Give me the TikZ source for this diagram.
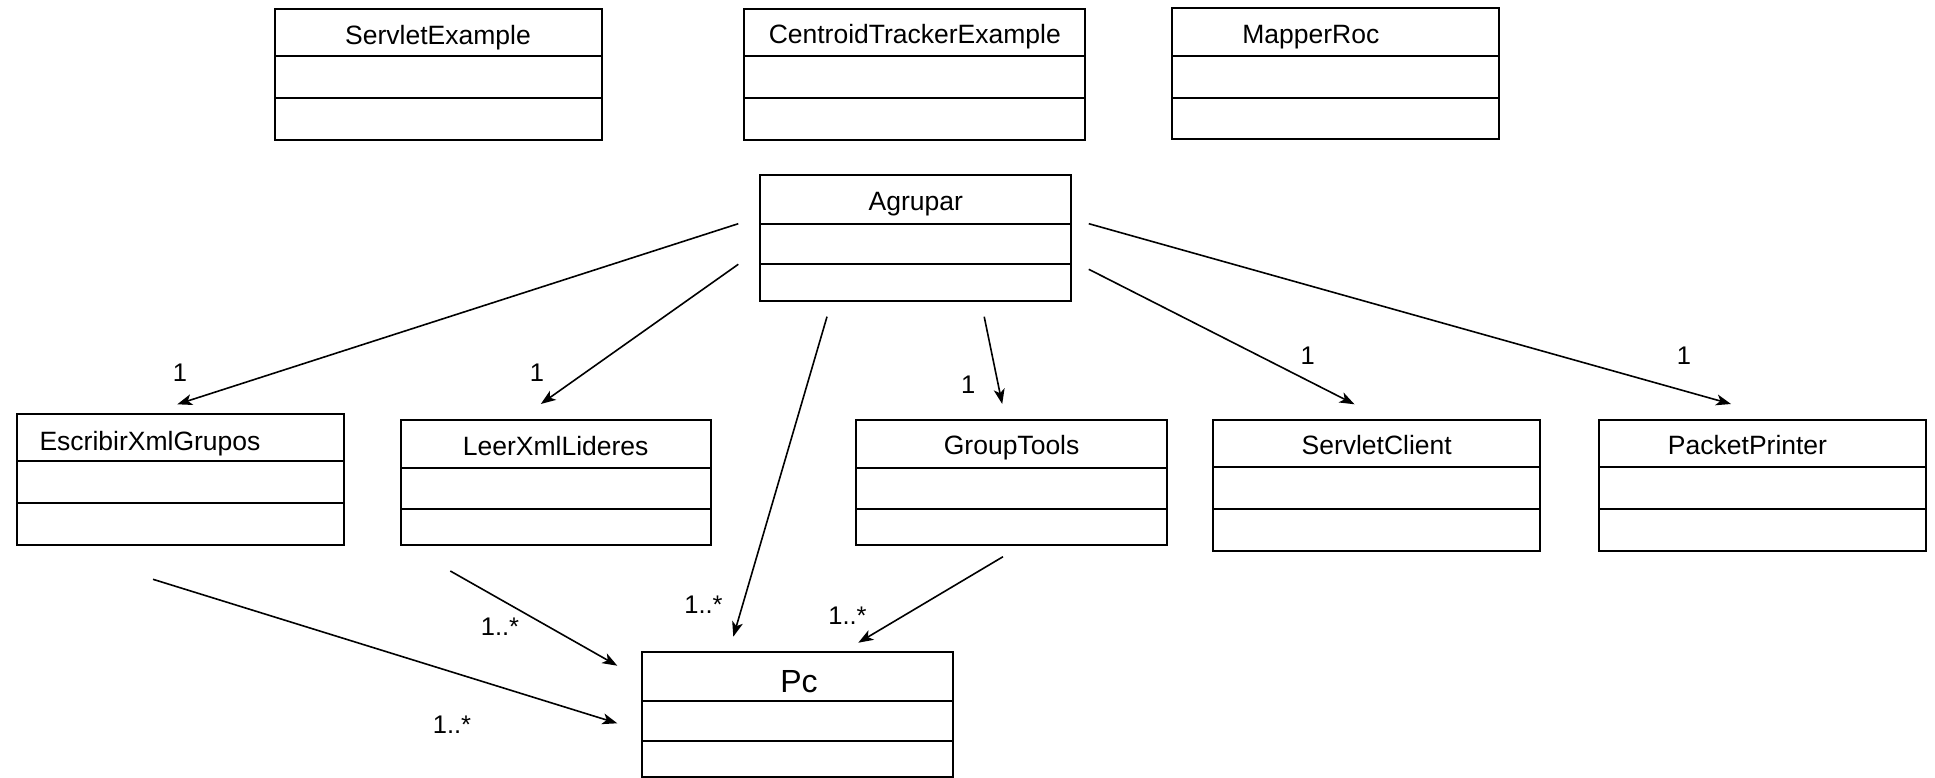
\documentclass[tikz,border=0pt]{standalone}
\usepackage{fontspec}
\setmainfont{Liberation Sans}
\usetikzlibrary{arrows.meta}
\newcommand\umlbox[9]{%
  \node[cls, minimum width={#4-#2}, minimum height={#5-#3}] (#1) at ({(#2+#4)/2},{(#3+#5)/2}) {};
  \draw[divline] (#2,#6) -- (#4,#6);
  \draw[divline] (#2,#7) -- (#4,#7);
  \node[ttl] (#1-t) at (#9) {#8};
}
\newcommand\pcfont{\fontsize{32}{36}\selectfont}
\begin{document}
\begin{tikzpicture}[x=1pt,y=-1pt,
  cls/.style={draw=black, line width=2pt, rectangle, inner sep=0pt, outer sep=0pt, fill=none},
  divline/.style={draw=black, line width=2pt},
  ttl/.style={anchor=base, inner sep=0pt, font=\fontsize{26.5}{30}\selectfont},
  lbl/.style={inner sep=0pt, font=\fontsize{25.5}{29}\selectfont},
  arr/.style={draw=black, line width=1.6pt, -{Stealth[length=15pt,width=11pt,inset=4pt]}}]
\fill[white] (0,0) rectangle (1935,778);
\useasboundingbox (0,0) rectangle (1935,778);

\umlbox{se}{274.6}{8.7}{601.8}{140}{56}{97.7}{ServletExample}{438,45}
\umlbox{cte}{744.4}{8.7}{1085.2}{140}{56}{97.7}{CentroidTrackerExample}{914.8,43.3}
\umlbox{mr}{1172.3}{8.5}{1499.3}{139.5}{55.7}{97.7}{MapperRoc}{1310.8,43.3}
\umlbox{agr}{760.2}{174.7}{1071.4}{301}{223.7}{264.3}{Agrupar}{915.8,210.7}
\umlbox{esc}{16.6}{413.7}{344.4}{545}{461}{503}{EscribirXmlGrupos}{150,450}
\umlbox{leer}{400.5}{420}{711}{545}{468.3}{508.7}{LeerXmlLideres}{555.7,455}
\umlbox{gt}{855.8}{420}{1167.4}{545.3}{468.3}{509}{GroupTools}{1011.6,454}
\umlbox{sc}{1213.4}{420}{1540}{551}{466.7}{508.7}{ServletClient}{1376.7,454}
\umlbox{pp}{1599}{420}{1926}{550.7}{466.7}{508.7}{PacketPrinter}{1747.5,454.3}
\umlbox{pc}{642}{652.3}{953.3}{776.5}{700.7}{741}{\pcfont Pc}{799,692.3}

% connectors
\draw[arr] ([shift={(-21.9,49)}]agr.north west) -- ([shift={(160.7,-9.4)}]esc.north west);
\draw[arr] ([shift={(-21.9,89.6)}]agr.north west) -- ([shift={(140.3,-16)}]leer.north west);
\draw[arr] ([shift={(66.8,142)}]agr.north west) -- ([shift={(91.3,-15.6)}]pc.north west);
\draw[arr] ([shift={(224,142)}]agr.north west) -- ([shift={(146.4,-16)}]gt.north west);
\draw[arr] ([shift={(17.4,94.6)}]agr.north east) -- ([shift={(141.1,-15.7)}]sc.north west);
\draw[arr] ([shift={(17.4,49)}]agr.north east) -- ([shift={(132,-16)}]pp.north west);
\draw[arr] ([shift={(136.4,34.3)}]esc.south west) -- ([shift={(-24.7,71)}]pc.north west);
\draw[arr] ([shift={(49.8,26)}]leer.south west) -- ([shift={(-24.7,13.4)}]pc.north west);
\draw[arr] ([shift={(147.2,11.4)}]gt.south west) -- ([shift={(216.3,-9.6)}]pc.north west);

% multiplicities
\node[lbl] (m1) at (180,372.3) {1};
\node[lbl] (m2) at (537,372.3) {1};
\node[lbl] (m3) at (703.5,604.7) {1..*};
\node[lbl] (m4) at (968.3,385) {1};
\node[lbl] (m5) at (1307.6,356) {1};
\node[lbl] (m6) at (1684,355.8) {1};
\node[lbl] (m7) at (500,627) {1..*};
\node[lbl] (m8) at (452,725) {1..*};
\node[lbl] (m9) at (847.5,615.5) {1..*};
\end{tikzpicture}
\end{document}
